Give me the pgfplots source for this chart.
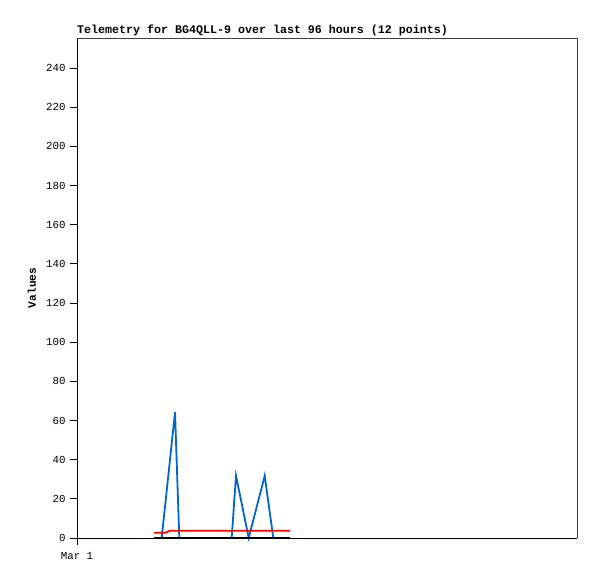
\documentclass[border=0pt]{standalone}
\usepackage{pgfplots}
\pgfplotsset{compat=1.18}
\usepackage{fontspec}
\setmainfont{Liberation Mono}
\setmonofont{Liberation Mono}
\definecolor{tlblue}{HTML}{0066CC}
\definecolor{framegray}{HTML}{404040}
\begin{document}
\begin{tikzpicture}
\path[use as bounding box] (0,0) rectangle (597bp,579bp);
\begin{axis}[
  at={(77bp,41bp)}, anchor=south west,
  width=500bp, height=500bp, scale only axis,
  xmin=0, xmax=96, ymin=0, ymax=255.3,
  axis x line*=bottom, axis y line*=left,
  axis line style={black, line width=1pt, -},
  ytick={0,20,...,240},
  xtick={0}, xticklabels={Mar 1},
  tick style={black, line width=0.8pt},
  tick align=outside, major tick length=7bp,
  ticklabel style={font=\fontsize{10.8}{12}\selectfont},
  /pgf/number format/assume math mode=true,
  yticklabel style={xshift=-1bp},
  xticklabel style={yshift=-4bp},
  clip=false,
]
\draw[framegray, line width=0.8pt] (rel axis cs:0,1) -- (rel axis cs:1,1) -- (rel axis cs:1,0);
\node[anchor=base west, inner sep=0pt, font=\fontsize{11.7}{12}\selectfont\bfseries] at (rel axis cs:0,1) [yshift=4bp] {Telemetry for BG4QLL-9 over last 96 hours (12 points)};
\node[xshift=-45bp, rotate=90, inner sep=0pt, font=\fontsize{11.2}{12}\selectfont\bfseries] at (rel axis cs:0,0.5) {Values};
\addplot[tlblue, line width=1.8bp] coordinates {
  (16.26,0) (18.82,64.2) (19.64,0) (29.7,0) (30.53,31.8) (32.97,0) (36.04,31.8) (37.69,0) (40.9,0)
};
\addplot[red, line width=1.8bp] coordinates {
  (14.78,2.7) (16.9,2.7) (17.86,3.7) (40.9,3.7)
};
\addplot[black, line width=1.8bp] coordinates {
  (14.78,0) (40.9,0)
};
\end{axis}
\end{tikzpicture}
\end{document}
